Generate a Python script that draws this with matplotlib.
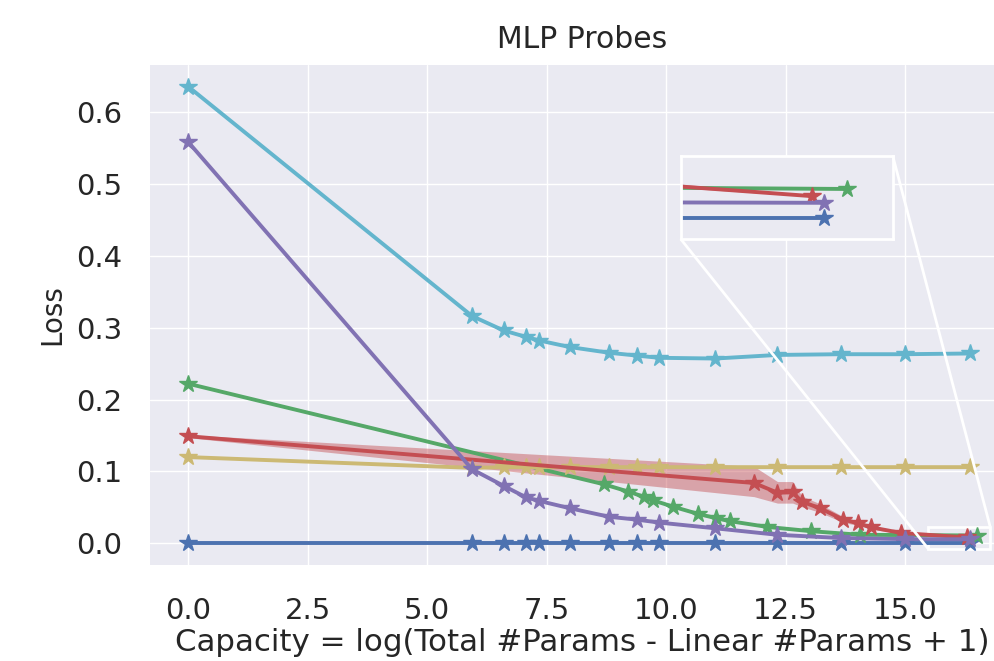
import matplotlib
matplotlib.use("Agg")
import matplotlib.pyplot as plt
import seaborn as sns
from mpl_toolkits.axes_grid1.inset_locator import mark_inset

sns.set_theme(style="darkgrid", color_codes=True)
plt.rcParams['font.family'] = ['DejaVu Sans']

# ---- data ----
x_common = [0, 5.94, 6.60, 7.07, 7.35, 7.98, 8.81, 9.40, 9.85, 11.03, 12.33, 13.65, 15.0, 16.36]
blue_y = [0, 0, 0, 0, 0, 0, 0, 0, 0, 0, 0, 0, 0, 0]
cyan_y = [0.635, 0.316, 0.296, 0.287, 0.282, 0.273, 0.265, 0.261, 0.258, 0.257, 0.262, 0.263, 0.263, 0.264]
purple_y = [0.558, 0.103, 0.080, 0.064, 0.059, 0.049, 0.037, 0.033, 0.029, 0.021, 0.012, 0.0075, 0.0060, 0.0058]
yellow_y = [0.120, 0.105, 0.106, 0.106, 0.106, 0.106, 0.106, 0.106, 0.106, 0.106, 0.106, 0.106, 0.106, 0.106]

green_x = [0, 8.71, 9.21, 9.53, 9.72, 10.15, 10.67, 11.05, 11.33, 12.11, 13.03, 14.06, 16.5]
green_y = [0.222, 0.082, 0.072, 0.065, 0.060, 0.051, 0.041, 0.035, 0.031, 0.023, 0.017, 0.012, 0.011]

red_x = [0, 11.84, 12.33, 12.65, 12.84, 13.22, 13.71, 14.02, 14.28, 14.92, 16.29]
red_y = [0.149, 0.084, 0.0705, 0.071, 0.058, 0.049, 0.033, 0.028, 0.0225, 0.0145, 0.0083]
red_lo = [0.147, 0.065, 0.056, 0.056, 0.051, 0.043, 0.029, 0.025, 0.020, 0.0135, 0.0080]
red_hi = [0.151, 0.107, 0.086, 0.086, 0.066, 0.055, 0.037, 0.031, 0.025, 0.0155, 0.0086]

x_ticks = [0.0, 2.5, 5.0, 7.5, 10.0, 12.5, 15.0]
y_ticks = [0.0, 0.1, 0.2, 0.3, 0.4, 0.5, 0.6]

title = "MLP Probes"
xlabel = "Capacity = log(Total #Params - Linear #Params + 1)"
ylabel = "Loss"

W, H = 995, 661
fig = plt.figure(figsize=(W / 100, H / 100), dpi=100)
ax = fig.add_axes([150 / W, (H - 565) / H, (1014 - 150) / W, 500 / H])

lw = 2.8
ms = 13


def draw(a):
    a.plot(x_common, blue_y, color='b', marker='*', lw=lw, ms=ms)
    a.plot(green_x, green_y, color='g', marker='*', lw=lw, ms=ms)
    a.plot(x_common, yellow_y, color='y', marker='*', lw=lw, ms=ms)
    a.fill_between(red_x, red_lo, red_hi, color='r', alpha=0.45, lw=0)
    a.plot(red_x, red_y, color='r', marker='*', lw=lw, ms=ms)
    a.plot(x_common, purple_y, color='m', marker='*', lw=lw, ms=ms)
    a.plot(x_common, cyan_y, color='c', marker='*', lw=lw, ms=ms)


draw(ax)
ax.set_xlim(-0.8, 17.28)
ax.set_ylim(-0.030, 0.665)
ax.set_xticks(x_ticks)
ax.set_yticks(y_ticks)
ax.tick_params(axis='x', labelsize=21, pad=17)
ax.tick_params(axis='y', labelsize=21, pad=14)
ax.set_title(title, fontsize=21.5, pad=12)
ax.set_xlabel(xlabel, fontsize=22.2, labelpad=2)
ax.set_ylabel(ylabel, fontsize=20, labelpad=7)
for s in ax.spines.values():
    s.set_visible(False)

axins = fig.add_axes([680.7 / W, (H - 239) / H, 212 / W, 83.3 / H])
draw(axins)
axins.set_xlim(15.49, 16.78)
axins.set_ylim(-0.0078, 0.0235)
axins.set_xticks([])
axins.set_yticks([])
axins.grid(False)
for s in axins.spines.values():
    s.set_visible(True)
    s.set_color('white')
    s.set_linewidth(2)

mark_inset(ax, axins, loc1=3, loc2=1, fc="none", ec="white", lw=2)

fig.savefig("out.png", dpi=100)
